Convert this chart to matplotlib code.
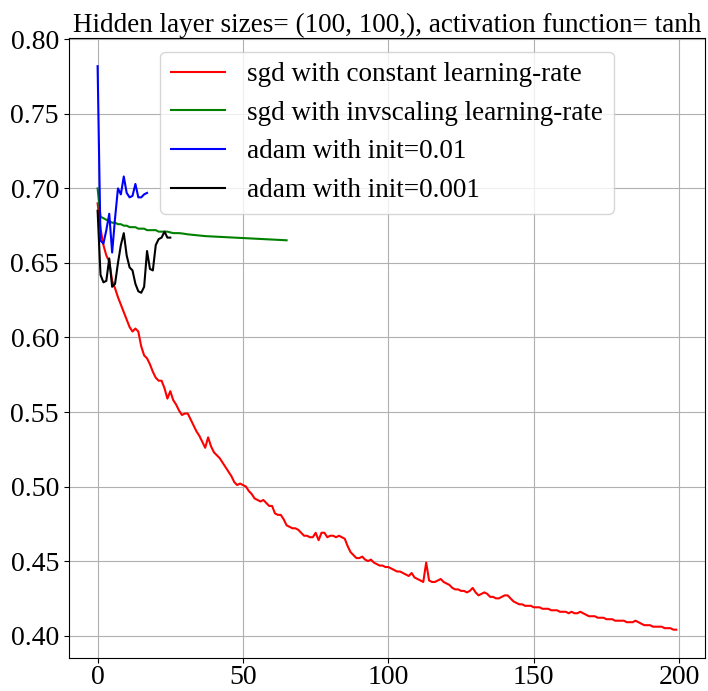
import numpy as np
import matplotlib
matplotlib.use("Agg")
import matplotlib.pyplot as plt
from matplotlib.ticker import MultipleLocator

plt.rcParams['font.family'] = ['Liberation Serif', 'DejaVu Serif']

# loss curves
red_loss = [
    0.690, 0.673, 0.662, 0.655, 0.651, 0.638, 0.633, 0.627, 0.622, 0.617,
    0.612, 0.607, 0.604, 0.606, 0.604, 0.594, 0.588, 0.586, 0.582, 0.577,
    0.573, 0.571, 0.571, 0.566, 0.559, 0.564, 0.558, 0.555, 0.551, 0.548,
    0.549, 0.549, 0.545, 0.541, 0.537, 0.534, 0.530, 0.526, 0.533, 0.527,
    0.523, 0.521, 0.519, 0.516, 0.513, 0.510, 0.507, 0.503, 0.501, 0.502,
    0.501, 0.500, 0.497, 0.495, 0.492, 0.491, 0.490, 0.491, 0.489, 0.487,
    0.487, 0.482, 0.481, 0.481, 0.478, 0.474, 0.473, 0.472, 0.472, 0.471,
    0.469, 0.467, 0.467, 0.466, 0.466, 0.469, 0.464, 0.469, 0.469, 0.466,
    0.467, 0.467, 0.466, 0.467, 0.466, 0.465, 0.460, 0.456, 0.454, 0.452,
    0.452, 0.453, 0.451, 0.450, 0.451, 0.449, 0.448, 0.447, 0.447, 0.446,
    0.446, 0.445, 0.444, 0.443, 0.443, 0.442, 0.441, 0.440, 0.442, 0.439,
    0.438, 0.437, 0.436, 0.449, 0.437, 0.436, 0.436, 0.437, 0.438, 0.436,
    0.435, 0.434, 0.432, 0.431, 0.431, 0.430, 0.430, 0.429, 0.430, 0.432,
    0.429, 0.427, 0.428, 0.429, 0.428, 0.426, 0.426, 0.425, 0.425, 0.426,
    0.427, 0.427, 0.425, 0.423, 0.422, 0.421, 0.421, 0.420, 0.420, 0.420,
    0.419, 0.419, 0.419, 0.418, 0.418, 0.418, 0.417, 0.417, 0.417, 0.416,
    0.416, 0.416, 0.415, 0.416, 0.415, 0.415, 0.416, 0.415, 0.414, 0.413,
    0.413, 0.413, 0.412, 0.412, 0.412, 0.411, 0.411, 0.411, 0.410, 0.410,
    0.410, 0.410, 0.409, 0.409, 0.409, 0.410, 0.409, 0.408, 0.407, 0.407,
    0.407, 0.406, 0.406, 0.406, 0.406, 0.405, 0.405, 0.405, 0.404, 0.404,
]
green_loss = [
    0.700, 0.681, 0.680, 0.679, 0.678, 0.677, 0.677, 0.676, 0.676, 0.675,
    0.675, 0.674, 0.674, 0.674, 0.673, 0.673, 0.673, 0.672, 0.672, 0.672,
    0.672, 0.671, 0.671, 0.671, 0.671, 0.6705, 0.670, 0.670, 0.670, 0.6698,
    0.6695, 0.6692, 0.669, 0.6688, 0.6686, 0.6684, 0.6682, 0.668, 0.6679, 0.6678,
    0.6677, 0.6676, 0.6675, 0.6674, 0.6673, 0.6672, 0.6671, 0.667, 0.6669, 0.6668,
    0.6667, 0.6666, 0.6665, 0.6664, 0.6663, 0.6662, 0.6661, 0.666, 0.6659, 0.6658,
    0.6657, 0.6656, 0.6655, 0.6654, 0.6653, 0.6652,
]
blue_loss = [
    0.782, 0.665, 0.663, 0.672, 0.683, 0.657, 0.680, 0.700, 0.696, 0.708,
    0.697, 0.694, 0.695, 0.703, 0.694, 0.694, 0.696, 0.697,
]
black_loss = [
    0.685, 0.642, 0.637, 0.638, 0.653, 0.634, 0.636, 0.650, 0.662, 0.670,
    0.655, 0.647, 0.645, 0.636, 0.631, 0.630, 0.634, 0.658, 0.646, 0.645,
    0.662, 0.666, 0.667, 0.671, 0.667, 0.667,
]
labels = ["sgd with constant learning-rate", "sgd with invscaling learning-rate",
          "adam with init=0.01", "adam with init=0.001"]

fig = plt.figure(figsize=(7.08, 6.91), dpi=100)
ax = fig.add_axes([0.097, 0.048, 0.899, 0.897])

ax.plot(red_loss, color="red", label=labels[0])
ax.plot(green_loss, color="green", label=labels[1])
ax.plot(blue_loss, color="blue", label=labels[2])
ax.plot(black_loss, color="black", label=labels[3])

ax.set_title("Hidden layer sizes= (100, 100,), activation function= tanh", fontsize=19.5, pad=3)
ax.xaxis.set_major_locator(MultipleLocator(50))
ax.tick_params(labelsize=20)
ax.tick_params(axis="x", pad=1.5)
ax.grid()
ax.legend(loc="upper center", fontsize=19.5)

fig.savefig("out.png", dpi=100)
